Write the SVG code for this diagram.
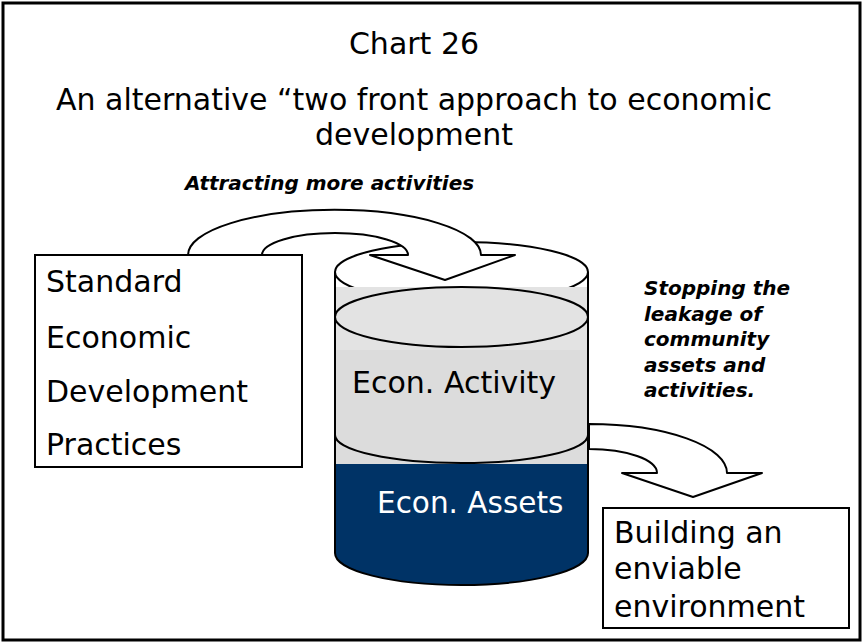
<svg xmlns="http://www.w3.org/2000/svg" width="863" height="643" viewBox="0 0 863 643">
<style>
.t{font-family:"DejaVu Sans","Liberation Sans",sans-serif;fill:#000}
.big{font-size:30px}
.mid{font-size:29.5px}
.bi{font-size:20px;font-weight:bold;font-style:italic}
.ln{stroke:#000;stroke-width:2;fill:none}
.box{fill:#fff;stroke:#000;stroke-width:2}
.arr{fill:#fff;stroke:#000;stroke-width:2;stroke-linejoin:round}
</style>
<rect x="3" y="3" width="857" height="637" fill="#fff" stroke="#000" stroke-width="3"/>
<g id="title">
<text class="t big" x="414" y="54" text-anchor="middle">Chart 26</text>
<text class="t big" x="414" y="110" text-anchor="middle">An alternative “two front approach to economic</text>
<text class="t big" x="414" y="145" text-anchor="middle">development</text>
</g>
<g id="cylinder">
<ellipse cx="461.5" cy="272" rx="126.5" ry="30" fill="#fff" stroke="#000" stroke-width="2"/>
<rect x="335" y="287" width="253" height="63" fill="#e3e3e3"/>
<rect x="335" y="350" width="253" height="114" fill="#dcdcdc"/>
<ellipse cx="461.5" cy="317" rx="126.5" ry="30" fill="#e3e3e3" stroke="#000" stroke-width="2"/>
<path d="M335,435 A126.5 28 0 0 0 588,435" class="ln"/>
<path d="M335,464 H588 V553 A126.5 32 0 0 1 335,553 Z" fill="#003366"/>
<path d="M335,272 V553 A126.5 32 0 0 0 588,553 V272" class="ln"/>
<text class="t big" x="352" y="393">Econ. Activity</text>
<text class="t mid" x="377" y="513" fill="#fff" style="fill:#fff">Econ. Assets</text>
</g>
<g id="connectors">
<path id="arrow-attract" class="arr" d="M188,255 A146 45 0 0 1 481,255 L515,255 L445,280 L370,255 L408,255 A73 22 0 0 0 262,255 Z"/>
<path id="arrow-leak" class="arr" d="M589,424 A138 49 0 0 1 727,473 L762,473 L693,497 L622,473 L657,473 A68 24 0 0 0 589,449 Z"/>
</g>
<g id="standard-box">
<rect class="box" x="35" y="255" width="267" height="212"/>
<text class="t big" x="46" y="292">Standard</text>
<text class="t big" x="46" y="348">Economic</text>
<text class="t big" x="46" y="402">Development</text>
<text class="t big" x="46" y="455">Practices</text>
</g>
<g id="building-box">
<rect class="box" x="603" y="508" width="246" height="120"/>
<text class="t big" x="614" y="543">Building an</text>
<text class="t big" x="614" y="579">enviable</text>
<text class="t big" x="614" y="617">environment</text>
</g>
<g id="label-attract">
<text class="t bi" x="185" y="190">Attracting more activities</text>
</g>
<g id="label-leak">
<text class="t bi" x="644" y="295">Stopping the</text>
<text class="t bi" x="644" y="320.5">leakage of</text>
<text class="t bi" x="644" y="346">community</text>
<text class="t bi" x="644" y="371.5">assets and</text>
<text class="t bi" x="644" y="397">activities.</text>
</g>
</svg>
